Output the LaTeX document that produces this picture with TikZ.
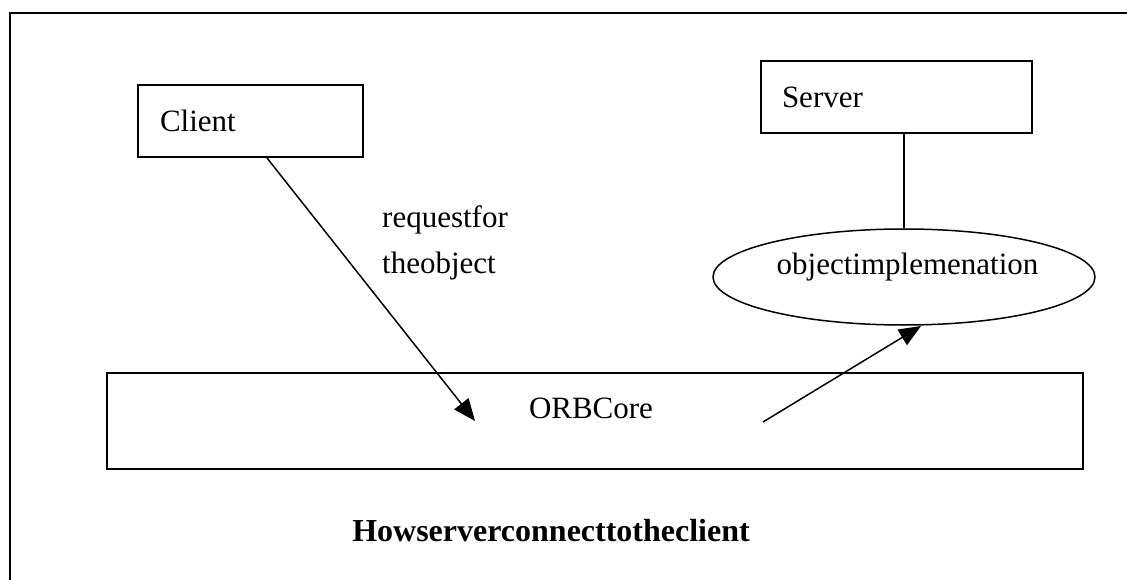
\documentclass[tikz,border=0pt]{standalone}
\usepackage{fontspec}
\setmainfont{Liberation Serif}
\usetikzlibrary{arrows.meta,shapes.geometric}
\begin{document}
\begin{tikzpicture}[x=1pt,y=-1pt,
  every node/.style={font=\fontsize{31}{46}\selectfont},
  box/.style={draw,line width=2pt,rectangle,inner ysep=0pt},
  conn/.style={line width=1.5pt},
  arr/.style={conn,-{Triangle[length=22pt,width=18pt]}}]
\useasboundingbox (0,0) rectangle (1127,580);
\fill[white] (0,0) rectangle (1127,580);
% frame (cut by the page edges)
\draw[line width=2pt] (10,585) -- (10,13) -- (1135,13);
% nodes
\node[box,minimum width=225pt,minimum height=72pt,text width=181pt,inner xsep=22pt,align=left,text height=21pt,text depth=0pt] (c) at (250.5,121) {Client};
\node[box,minimum width=271pt,minimum height=72pt,text width=229pt,inner xsep=21pt,align=left,text height=21pt,text depth=0pt] (s) at (896.5,97) {Server};
\node[box,minimum width=976pt,minimum height=96pt,inner xsep=0pt,text height=14pt,text depth=20pt] (orb) at (595,421) {};
\node[text height=14pt,text depth=20pt,inner sep=0pt] (orbt) at (591,421) {ORBCore};
\node[draw,ellipse,line width=1.5pt,minimum width=382pt,minimum height=96pt,inner sep=0pt,text height=14pt,text depth=20pt] (obj) at (904,277) {\hspace*{7pt}objectimplemenation};
\node[anchor=base west,align=left,inner sep=0pt] (lab) at (382,273) {requestfor\\theobject};
\node[anchor=base,inner sep=0pt,font=\fontsize{32}{38}\selectfont\bfseries] (title) at (551,541) {Howserverconnecttotheclient};
% connector ends
\coordinate (a1e) at (475,421);
\coordinate (a2s) at (763,422);
\coordinate (a2e) at (921,326);
% connectors
\draw[arr] ([xshift=16.5pt]c.south) -- (a1e);
\draw[conn] ([xshift=7.5pt]s.south) -- (obj.north);
\draw[arr] (a2s) -- (a2e);
\end{tikzpicture}
\end{document}
